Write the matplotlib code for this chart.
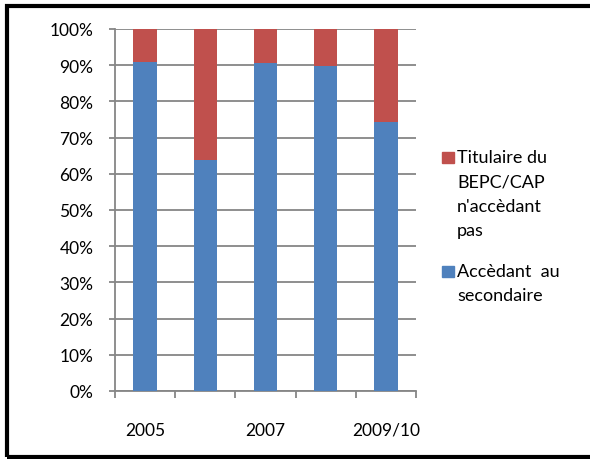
import matplotlib
matplotlib.use('Agg')
import matplotlib.pyplot as plt
from matplotlib.patches import Rectangle
import numpy as np

# values (share of pupils, %)
years = ['2005', '2006', '2007', '2008', '2009/10']
year_labels = ['2005', '', '2007', '', '2009/10']
accedant = [91.0, 63.9, 90.5, 89.9, 74.4]
non_accedant = [100 - v for v in accedant]

blue = '#4F81BD'
red = '#C0504D'
grid_col = '#868686'

plt.rcParams['font.family'] = ['Lato', 'DejaVu Sans']
plt.rcParams['font.size'] = 12.5

fig = plt.figure(figsize=(5.9, 4.6), dpi=100)
ax = fig.add_axes([115/590, 68/460, 301/590, 362/460])

x = np.arange(len(years))
ax.bar(x, accedant, width=0.39, color=blue, zorder=3)
ax.bar(x, non_accedant, width=0.39, bottom=accedant, color=red, zorder=3)

ax.set_xlim(-0.5, len(years) - 0.5)
ax.set_ylim(0, 100)
ax.set_yticks(np.arange(0, 101, 10))
ax.set_yticklabels([f'{v}%' for v in range(0, 101, 10)])
ax.yaxis.grid(True, color=grid_col, linewidth=1.3, zorder=0)

# category boundaries carry the tick marks, labels sit at the centres
ax.set_xticks(np.arange(-0.5, len(years), 1.0))
ax.set_xticklabels([])
ax.set_xticks(x, minor=True)
ax.set_xticklabels(year_labels, minor=True)
ax.tick_params(axis='x', which='major', length=5, color=grid_col, width=1.3)
ax.tick_params(axis='x', which='minor', length=0, pad=22)
ax.tick_params(axis='y', length=4.5, color=grid_col, width=1.3, pad=11)

for side in ['top', 'right']:
    ax.spines[side].set_visible(False)
for side in ['left', 'bottom']:
    ax.spines[side].set_color(grid_col)
    ax.spines[side].set_linewidth(1.3)

# legend drawn by hand so the key squares line up with the first text line
legend_items = [(red, "Titulaire du\nBEPC/CAP\nn'accèdant\npas", 153),
                (blue, 'Accèdant  au\nsecondaire', 267)]
for col, label, ytop in legend_items:
    fig.patches.append(Rectangle((442/590, 1 - (ytop + 11)/460), 12/590, 11/460,
                                 transform=fig.transFigure, color=col))
    fig.text(457/590, 1 - (ytop - 3)/460, label, ha='left', va='top',
             linespacing=1.65, fontsize=13)

# outer frame
fig.patches.append(Rectangle((6.5/590, 2/460), 600/590, 451/460, transform=fig.transFigure,
                             fill=False, edgecolor='black', linewidth=3))

fig.savefig('out.png', dpi=100)
